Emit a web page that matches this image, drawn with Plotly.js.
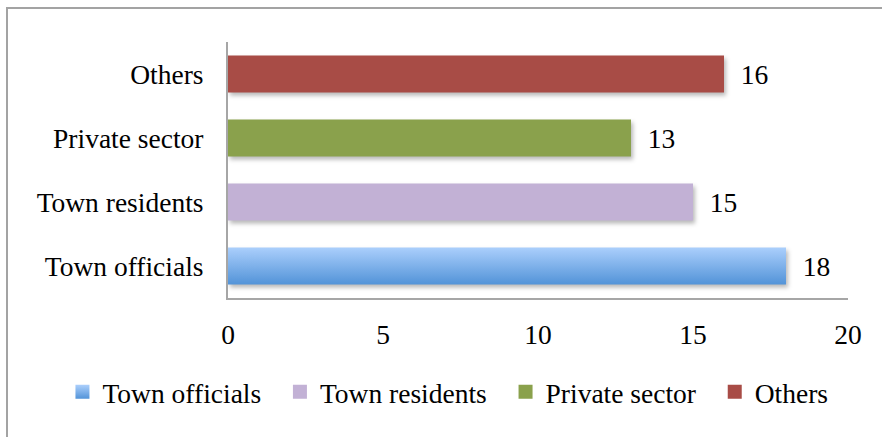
<!DOCTYPE html>
<html>
<head>
<meta charset="utf-8">
<script src="https://cdn.plot.ly/plotly-3.0.1.min.js"></script>
<style>
  html, body { margin: 0; padding: 0; background: #ffffff; }
  #wrap { position: relative; width: 882px; height: 437px; overflow: hidden; }
  #chart { position: absolute; left: 0; top: 0; width: 882px; height: 437px; }
  #frame { position: absolute; left: 6px; top: 7px; width: 1000px; height: 1000px;
           border-left: 2px solid #a3a3a3; border-top: 2px solid #a3a3a3; pointer-events: none; }
</style>
</head>
<body>
<div id="wrap">
  <div id="chart"></div>
  <div id="frame"></div>
</div>
<script>
// Respondent groups and their counts
const groups = ['Town officials', 'Town residents', 'Private sector', 'Others'];
const counts = [18, 15, 13, 16];
const colors = ['#6fa7e6', '#c2b1d5', '#8aa14c', '#a84c46'];
const xTicks = [0, 5, 10, 15, 20];

const FONT = 'Liberation Serif, Times New Roman, serif';
const FSIZE = 27.5;
const PAD = '\u00a0\u00a0';

// one trace per group so each gets its own legend entry
const traces = groups.map((g, i) => ({
  type: 'bar',
  orientation: 'h',
  name: i < groups.length - 1 ? g + PAD : g,
  y: [g],
  x: [counts[i]],
  marker: { color: colors[i], line: { width: 0 } },
  texttemplate: PAD + '%{x}',
  textposition: 'outside',
  cliponaxis: false,
  textfont: { family: FONT, size: FSIZE, color: '#000000' },
  hoverinfo: 'skip'
}));

const layout = {
  width: 882,
  height: 437,
  margin: { l: 228, r: 34, t: 42, b: 139 },
  paper_bgcolor: '#ffffff',
  plot_bgcolor: '#ffffff',
  font: { family: FONT, size: FSIZE, color: '#000000' },
  barmode: 'overlay',
  bargap: 0.42,
  showlegend: true,
  legend: {
    orientation: 'h',
    x: -0.267, xanchor: 'left',
    y: -0.367, yanchor: 'middle',
    bgcolor: 'rgba(0,0,0,0)',
    font: { family: FONT, size: FSIZE, color: '#000000' },
    itemclick: false, itemdoubleclick: false,
    traceorder: 'normal'
  },
  xaxis: {
    range: [0, 20],
    tickvals: xTicks,
    ticktext: xTicks.map(String),
    showgrid: false,
    zeroline: false,
    showline: true,
    linecolor: '#a6a6a6',
    linewidth: 2,
    ticks: '',
    ticklabelstandoff: 11,
    fixedrange: true
  },
  yaxis: {
    type: 'category',
    categoryorder: 'array',
    categoryarray: groups,
    showgrid: false,
    zeroline: false,
    showline: true,
    linecolor: '#a6a6a6',
    linewidth: 2,
    ticks: '',
    ticklabelstandoff: 17,
    fixedrange: true
  }
};

Plotly.newPlot('chart', traces, layout, { displayModeBar: false, staticPlot: true }).then(gd => {
  // vertical gradient for the first series, soft drop shadow on all bars
  const svg = gd.querySelector('svg.main-svg');
  const ns = 'http://www.w3.org/2000/svg';
  let defs = svg.querySelector('defs');
  if (!defs) { defs = document.createElementNS(ns, 'defs'); svg.insertBefore(defs, svg.firstChild); }
  const grad = document.createElementNS(ns, 'linearGradient');
  grad.setAttribute('id', 'officialsGrad');
  grad.setAttribute('x1', '0'); grad.setAttribute('y1', '0');
  grad.setAttribute('x2', '0'); grad.setAttribute('y2', '1');
  [['0%', '#abcffc'], ['100%', '#5293d8']].forEach(([o, c]) => {
    const s = document.createElementNS(ns, 'stop');
    s.setAttribute('offset', o); s.setAttribute('stop-color', c);
    grad.appendChild(s);
  });
  defs.appendChild(grad);

  const barTraces = gd.querySelectorAll('.barlayer .trace');
  barTraces.forEach((t, i) => {
    t.querySelectorAll('.point path').forEach(p => {
      if (i === 0) p.style.fill = 'url(#officialsGrad)';
      p.style.filter = 'drop-shadow(2px 3px 2px rgba(0,0,0,0.28))';
    });
  });
  // slightly larger legend swatches
  gd.querySelectorAll('.legend .traces').forEach((t, i) => {
    t.querySelectorAll('.legendpoints path').forEach(p => {
      if (i === 0) p.style.fill = 'url(#officialsGrad)';
      p.setAttribute('d', 'M7,7H-7V-7H7Z');
    });
  });
});
</script>
</body>
</html>
